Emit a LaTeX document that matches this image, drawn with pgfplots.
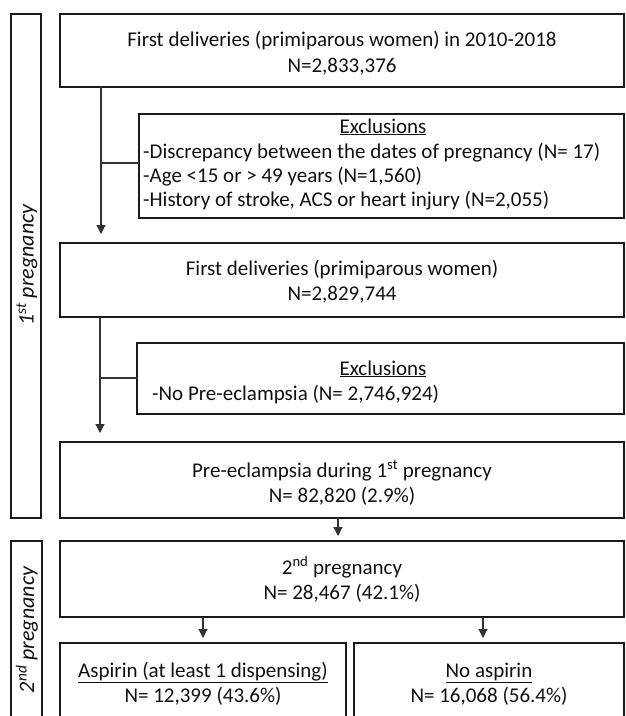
\documentclass[border=0pt]{standalone}
\usepackage{pgfplots}
\pgfplotsset{compat=1.18}
\usepackage{fontspec}
\setmainfont{Carlito}
\usetikzlibrary{arrows.meta}
\definecolor{txt}{HTML}{111111}
\definecolor{ln}{HTML}{1A1A1A}
\definecolor{arr}{HTML}{333333}
\tikzset{t/.style={font=\fontsize{21}{24}\selectfont, text=txt, inner sep=0pt},
  lab/.style={font=\fontsize{22}{24}\selectfont\itshape, text=txt, inner sep=0pt, rotate=90}}
\begin{document}
\begin{tikzpicture}
\begin{axis}[name=ax, width=625pt, height=716pt, scale only axis,
  xmin=0, xmax=625, ymin=0, ymax=716, y dir=reverse, hide axis, clip=false,
  box/.style={ln, line width=2pt, line cap=rect, line join=miter, mark=none},
  link/.style={arr, line width=1.1pt, mark=none},
  arrw/.style={arr, line width=1.1pt, mark=none, -{Triangle[width=9pt,length=9pt]}}]
% label boxes
\addplot[box] coordinates {(11,14) (41,14) (41,518) (11,518) (11,14)};
\addplot[box] coordinates {(11,730) (11,541) (42,541) (42,730)};
% main boxes
\addplot[box] coordinates {(60,14) (624,14) (624,87) (60,87) (60,14)};
\addplot[box] coordinates {(139,114) (624,114) (624,218) (139,218) (139,114)};
\addplot[box] coordinates {(60,243) (624,243) (624,317) (60,317) (60,243)};
\addplot[box] coordinates {(137,343) (624,343) (624,414) (137,414) (137,343)};
\addplot[box] coordinates {(60,442) (624,442) (624,518) (60,518) (60,442)};
\addplot[box] coordinates {(60,541) (624,541) (624,617) (60,617) (60,541)};
\addplot[box] coordinates {(60,730) (60,643) (346,643) (346,730)};
\addplot[box] coordinates {(354,730) (354,643) (624,643) (624,730)};
% connectors and arrows
\addplot[arrw] coordinates {(101,87) (101,234)};
\addplot[link] coordinates {(101,163) (139,163)};
\addplot[arrw] coordinates {(100,317) (100,433)};
\addplot[link] coordinates {(100,378) (137,378)};
\addplot[arrw] coordinates {(338,518) (338,536)};
\addplot[arrw] coordinates {(203,617) (203,638)};
\addplot[arrw] coordinates {(483,617) (483,638)};
% texts
\node[t, anchor=base] at (axis cs:342,46) {First deliveries (primiparous women) in 2010-2018};
\node[t, anchor=base] at (axis cs:342,72) {N=2,833,376};
\node[t, anchor=base] at (axis cs:383,133) {\underline{Exclusions}};
\node[t, anchor=base west] at (axis cs:143,158) {-Discrepancy between the dates of pregnancy (N= 17)};
\node[t, anchor=base west] at (axis cs:143,182) {-Age <15 or > 49 years (N=1,560)};
\node[t, anchor=base west] at (axis cs:143,206) {-History of stroke, ACS or heart injury (N=2,055)};
\node[t, anchor=base] at (axis cs:342,275) {First deliveries (primiparous women)};
\node[t, anchor=base] at (axis cs:342,300) {N=2,829,744};
\node[t, anchor=base] at (axis cs:383,375) {\underline{Exclusions}};
\node[t, anchor=base west] at (axis cs:152,400) {-No Pre-eclampsia (N= 2,746,924)};
\node[t, anchor=base] at (axis cs:342,477) {Pre-eclampsia during 1\textsuperscript{st} pregnancy};
\node[t, anchor=base] at (axis cs:342,502) {N= 82,820 (2.9\%)};
\node[t, anchor=base] at (axis cs:342,574) {2\textsuperscript{nd} pregnancy};
\node[t, anchor=base] at (axis cs:342,599) {N= 28,467 (42.1\%)};
\node[t, anchor=base] at (axis cs:203,677) {\underline{Aspirin (at least 1 dispensing)}};
\node[t, anchor=base] at (axis cs:203,702) {N= 12,399 (43.6\%)};
\node[t, anchor=base] at (axis cs:489,677) {\underline{No aspirin}};
\node[t, anchor=base] at (axis cs:489,702) {N= 16,068 (56.4\%)};
\node[lab] at (axis cs:27,265) {1\textsuperscript{st} pregnancy};
\node[lab] at (axis cs:27,630) {2\textsuperscript{nd} pregnancy};
\end{axis}
\pgfresetboundingbox
\useasboundingbox (ax.south west) rectangle (ax.north east);
\end{tikzpicture}
\end{document}
